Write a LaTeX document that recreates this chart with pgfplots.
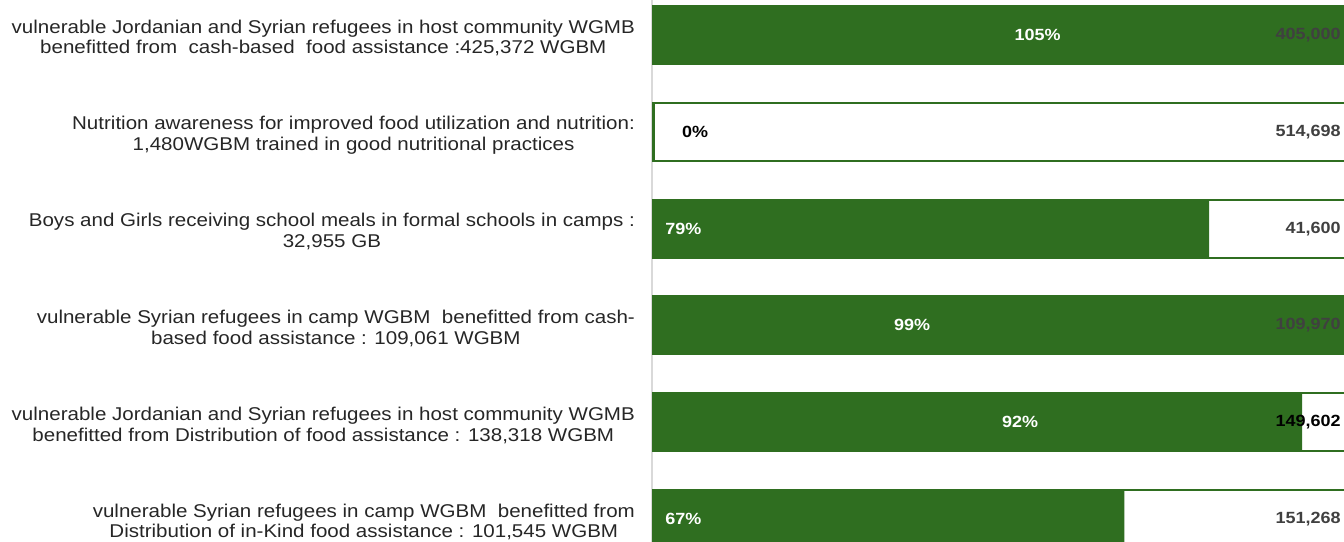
\documentclass[border=0pt]{standalone}
\usepackage{pgfplots}
\pgfplotsset{compat=1.18}
\usepackage{fontspec}
\setmainfont{Liberation Sans}
\newfontfamily\lblfont[FakeStretch=1.11]{Liberation Sans}
\definecolor{wgreen}{RGB}{47,110,32}
\definecolor{axgray}{RGB}{217,217,217}
\definecolor{lblgray}{RGB}{64,64,64}
\begin{document}
\begin{tikzpicture}
\begin{axis}[
  scale only axis, width=346pt, height=271pt,
  xbar, bar shift=0pt, bar width=0.6,
  xmin=-0.14, xmax=98.43,
  ymin=-0.362, ymax=5.238, y dir=reverse,
  ytick={0,1,2,3,4,5},
  yticklabels={{vulnerable Jordanian and Syrian refugees in host community WGMB\\benefitted from\ \ cash-based\ \ food assistance :425,372 WGBM},
    {Nutrition awareness for improved food utilization and nutrition:\\1,480WGBM trained in good nutritional practices},
    {Boys and Girls receiving school meals in formal schools in camps :\\32,955 GB},
    {vulnerable Syrian refugees in camp WGBM\ \ benefitted from cash-\\based food assistance : 109,061 WGBM},
    {vulnerable Jordanian and Syrian refugees in host community WGMB\\benefitted from Distribution of food assistance : 138,318 WGBM},
    {vulnerable Syrian refugees in camp WGBM\ \ benefitted from\\Distribution of in-Kind food assistance : 101,545 WGBM}},
  yticklabel style={align=center, font=\lblfont\fontsize{9.25}{10.4}\selectfont, text=black!85, xshift=-5pt, yshift=-1.5pt},
  axis x line=none,
  axis y line*=left,
  y axis line style={axgray, line width=0.6pt},
  major tick length=0pt, ytick style={draw=none},
]
\addplot[fill=white, draw=wgreen, line width=1pt] coordinates {(100,0) (100,1) (100,2) (100,3) (100,4) (100,5)};
\addplot[fill=wgreen, draw=none] coordinates {(105.03,0) (0.29,1) (79.22,2) (99.17,3) (92.46,4) (67.13,5)};
\tikzset{pl/.style={font=\lblfont\bfseries\fontsize{8.1}{10}\selectfont}}
\node[pl, text=white] at (axis cs:54.8,0) {105\%};
\node[pl, text=black, anchor=west, inner sep=0pt] at (axis cs:4.1,1) {0\%};
\node[pl, text=white, anchor=west, inner sep=0pt] at (axis cs:1.7,2) {79\%};
\node[pl, text=white] at (axis cs:36.9,3) {99\%};
\node[pl, text=white] at (axis cs:52.3,4) {92\%};
\node[pl, text=white, anchor=west, inner sep=0pt] at (axis cs:1.7,5) {67\%};
\node[pl, text=lblgray, anchor=east, inner sep=0pt] at (axis cs:98.0,0) {405,000};
\node[pl, text=lblgray, anchor=east, inner sep=0pt] at (axis cs:98.0,1) {514,698};
\node[pl, text=lblgray, anchor=east, inner sep=0pt] at (axis cs:98.0,2) {41,600};
\node[pl, text=black!75, anchor=east, inner sep=0pt] at (axis cs:98.0,3) {109,970};
\node[pl, text=black, anchor=east, inner sep=0pt] at (axis cs:98.0,4) {149,602};
\node[pl, text=lblgray, anchor=east, inner sep=0pt] at (axis cs:98.0,5) {151,268};
\coordinate (ra) at (rel axis cs:1,0);
\coordinate (rb) at (rel axis cs:1,1);
\end{axis}
\pgfresetboundingbox
\path ([xshift=-672pt]ra) rectangle (rb);
\end{tikzpicture}
\end{document}
